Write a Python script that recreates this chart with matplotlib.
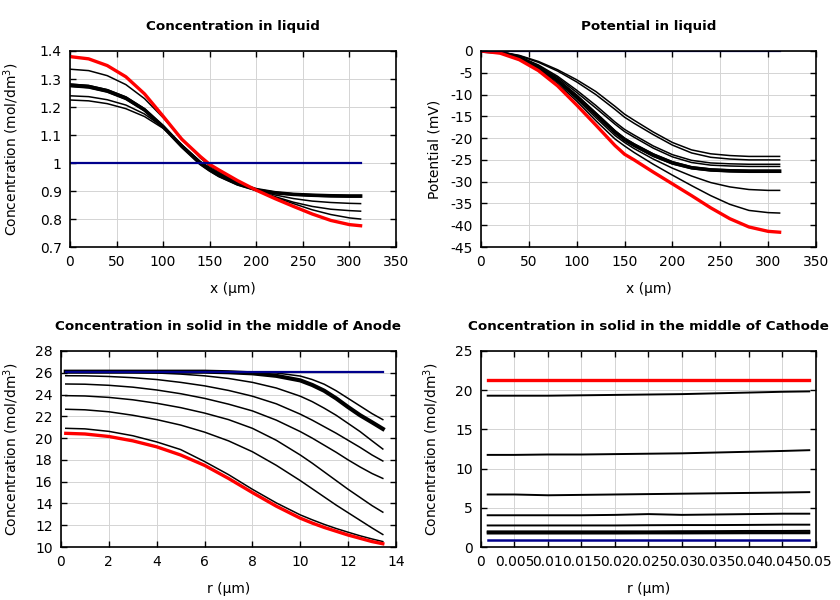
import matplotlib
matplotlib.use('Agg')
import matplotlib.pyplot as plt
from matplotlib.ticker import FormatStrFormatter

plt.rcParams['font.family'] = ['DejaVu Sans']
plt.rcParams['font.size'] = 10

#液相：位置 x (µm)
x_liq = [0, 20, 40, 60, 80, 100, 120, 140, 150, 160, 180, 200, 220, 240, 260, 280, 300, 312]

#液相浓度：初始、中间时刻、最终
conc_init = [1.0] * len(x_liq)
conc_mid = [
    [1.335, 1.330, 1.312, 1.280, 1.230, 1.162, 1.088, 1.018, 0.990, 0.968, 0.932, 0.902, 0.877, 0.855, 0.833, 0.816, 0.804, 0.800],
    [1.282, 1.277, 1.262, 1.236, 1.194, 1.133, 1.063, 1.001, 0.978, 0.958, 0.928, 0.907, 0.896, 0.890, 0.887, 0.885, 0.884, 0.884],
    [1.278, 1.273, 1.258, 1.232, 1.190, 1.130, 1.060, 0.998, 0.975, 0.955, 0.925, 0.905, 0.894, 0.888, 0.885, 0.883, 0.882, 0.882],
    [1.273, 1.268, 1.253, 1.227, 1.186, 1.127, 1.057, 0.995, 0.972, 0.952, 0.922, 0.902, 0.891, 0.886, 0.882, 0.880, 0.879, 0.879],
    [1.240, 1.237, 1.226, 1.207, 1.175, 1.128, 1.065, 1.005, 0.983, 0.963, 0.930, 0.904, 0.886, 0.873, 0.864, 0.859, 0.856, 0.855],
    [1.225, 1.222, 1.212, 1.194, 1.166, 1.124, 1.065, 1.005, 0.983, 0.963, 0.930, 0.903, 0.880, 0.860, 0.845, 0.835, 0.830, 0.828],
]
conc_final = [1.380, 1.372, 1.348, 1.308, 1.247, 1.167, 1.085, 1.023, 0.995, 0.975, 0.937, 0.903, 0.873, 0.845, 0.818, 0.795, 0.780, 0.776]

#液相电势 (mV)
pot_init = [0.0] * len(x_liq)
pot_mid = [
    [0, -0.2, -1.0, -2.4, -4.3, -6.6, -9.3, -12.7, -14.5, -15.9, -18.6, -21.0, -22.7, -23.6, -24.0, -24.2, -24.2, -24.2],
    [0, -0.2, -1.1, -2.6, -4.6, -7.1, -10.0, -13.4, -15.2, -16.6, -19.2, -21.6, -23.4, -24.4, -24.8, -25.0, -25.0, -25.0],
    [0, -0.3, -1.3, -3.2, -5.8, -9.0, -12.5, -16.3, -18.0, -19.3, -21.8, -23.8, -25.1, -25.7, -25.9, -26.0, -26.0, -26.0],
    [0, -0.3, -1.4, -3.4, -6.1, -9.5, -13.1, -16.8, -18.5, -19.8, -22.3, -24.3, -25.6, -26.2, -26.4, -26.5, -26.5, -26.5],
    [0, -0.3, -1.5, -3.6, -6.6, -10.2, -14.2, -18.3, -20.0, -21.3, -23.6, -25.4, -26.6, -27.1, -27.3, -27.4, -27.4, -27.4],
    [0, -0.3, -1.5, -3.7, -6.7, -10.4, -14.5, -18.6, -20.3, -21.6, -23.9, -25.7, -26.8, -27.3, -27.5, -27.6, -27.6, -27.6],
    [0, -0.35, -1.6, -3.8, -6.9, -10.6, -14.8, -18.9, -20.6, -21.9, -24.2, -25.9, -27.0, -27.5, -27.7, -27.8, -27.8, -27.8],
    [0, -0.35, -1.6, -3.9, -7.1, -11.0, -15.3, -19.4, -21.0, -22.4, -24.8, -26.9, -28.7, -30.2, -31.2, -31.8, -32.0, -32.0],
    [0, -0.4, -1.7, -4.1, -7.5, -11.5, -16.0, -20.2, -21.8, -23.3, -26.0, -28.5, -30.9, -33.2, -35.2, -36.6, -37.1, -37.2],
]
pot_final = [0, -0.5, -2.0, -4.5, -8.0, -12.4, -17.0, -21.7, -23.7, -25.0, -27.8, -30.5, -33.2, -36.0, -38.5, -40.4, -41.4, -41.6]

#负极颗粒：半径 r (µm)
r_an = [0.2, 1, 2, 3, 4, 5, 6, 7, 8, 9, 10, 10.5, 11, 11.5, 12, 12.5, 13, 13.45]
an_init = [26.1] * len(r_an)
an_mid = [
    [26.1, 26.1, 26.1, 26.1, 26.1, 26.1, 26.1, 26.1, 26.08, 25.98, 25.7, 25.38, 24.95, 24.35, 23.65, 22.95, 22.25, 21.7],
    [26.1, 26.1, 26.08, 26.04, 25.98, 25.88, 25.72, 25.48, 25.12, 24.6, 23.85, 23.35, 22.75, 22.1, 21.35, 20.6, 19.75, 19.0],
    [25.73, 25.72, 25.66, 25.55, 25.38, 25.12, 24.8, 24.38, 23.85, 23.15, 22.2, 21.65, 21.05, 20.45, 19.8, 19.15, 18.45, 17.9],
    [24.97, 24.95, 24.85, 24.68, 24.42, 24.08, 23.65, 23.12, 22.5, 21.65, 20.6, 20.0, 19.35, 18.7, 18.0, 17.35, 16.75, 16.3],
    [23.9, 23.87, 23.74, 23.52, 23.2, 22.8, 22.3, 21.7, 20.9, 19.8, 18.45, 17.7, 16.9, 16.1, 15.3, 14.55, 13.8, 13.2],
    [22.65, 22.6, 22.42, 22.1, 21.7, 21.2, 20.55, 19.75, 18.75, 17.5, 16.1, 15.35, 14.6, 13.85, 13.15, 12.45, 11.75, 11.15],
    [20.9, 20.85, 20.62, 20.22, 19.65, 18.95, 17.85, 16.65, 15.3, 14.05, 12.95, 12.5, 12.08, 11.7, 11.36, 11.03, 10.74, 10.5],
]
an_thick = [26.1, 26.1, 26.1, 26.1, 26.1, 26.1, 26.1, 26.05, 25.95, 25.72, 25.3, 24.88, 24.35, 23.65, 22.85, 22.1, 21.45, 20.85]
an_final = [20.44, 20.38, 20.15, 19.75, 19.2, 18.45, 17.5, 16.3, 15.0, 13.75, 12.65, 12.2, 11.8, 11.45, 11.1, 10.8, 10.5, 10.3]

#正极颗粒
r_ca = [0.001, 0.005, 0.01, 0.015, 0.02, 0.025, 0.03, 0.035, 0.04, 0.045, 0.049]
ca_init = [0.85] * len(r_ca)
ca_mid = [
    [19.3, 19.3, 19.3, 19.35, 19.4, 19.45, 19.5, 19.6, 19.7, 19.8, 19.85],
    [11.75, 11.75, 11.8, 11.8, 11.85, 11.9, 11.95, 12.05, 12.15, 12.25, 12.35],
    [6.7, 6.7, 6.6, 6.65, 6.7, 6.75, 6.8, 6.85, 6.9, 6.95, 7.0],
    [4.05, 4.05, 4.05, 4.05, 4.1, 4.2, 4.1, 4.15, 4.2, 4.25, 4.25],
    [2.75, 2.75, 2.75, 2.75, 2.75, 2.78, 2.8, 2.8, 2.82, 2.85, 2.85],
    [2.0, 2.0, 2.0, 2.0, 2.0, 2.0, 2.02, 2.03, 2.05, 2.05, 2.07],
    [1.87, 1.87, 1.87, 1.87, 1.88, 1.88, 1.88, 1.89, 1.9, 1.9, 1.9],
    [1.72, 1.72, 1.72, 1.72, 1.72, 1.73, 1.73, 1.74, 1.75, 1.75, 1.75],
]
ca_final = [21.25] * len(r_ca)
ca_ticks = ['0', '0.005', '0.01', '0.015', '0.02', '0.025', '0.03', '0.035', '0.04', '0.045', '0.05']

BLUE = '#00008c'
RED = '#ff0000'

fig = plt.figure(figsize=(8.4, 6), dpi=100)
ax1 = fig.add_axes([0.0833, 0.5883, 0.3881, 0.3267])
ax2 = fig.add_axes([0.5726, 0.5883, 0.3988, 0.3267])
ax3 = fig.add_axes([0.0726, 0.0883, 0.3988, 0.3267])
ax4 = fig.add_axes([0.5726, 0.0883, 0.3988, 0.3267])


def style(ax, title, xlabel, ylabel, ylab_x):
    ax.set_title(title, fontsize=9.7, fontweight='bold', pad=15)
    ax.set_xlabel(xlabel, fontsize=10, labelpad=9)
    ax.set_ylabel(ylabel, fontsize=10)
    ax.yaxis.set_label_coords(ylab_x, 0.5)
    ax.grid(True, color='#d4d4d4', linewidth=0.7)
    ax.set_axisbelow(True)
    ax.tick_params(direction='in', top=True, right=True, length=4, width=1, labelsize=10, pad=6)
    for s in ax.spines.values():
        s.set_linewidth(1.2)


#1. 液相浓度
for c in conc_mid:
    ax1.plot(x_liq, c, color='black', linewidth=1.1)
ax1.plot(x_liq, conc_mid[2], color='black', linewidth=2.6)
ax1.plot(x_liq, conc_final, color=RED, linewidth=2.4)
ax1.plot(x_liq, conc_init, color=BLUE, linewidth=1.6)
ax1.set_xlim(0, 350)
ax1.set_ylim(0.7, 1.4)
ax1.set_xticks(range(0, 351, 50))
ax1.set_yticks([0.7, 0.8, 0.9, 1.0, 1.1, 1.2, 1.3, 1.4])
ax1.yaxis.set_major_formatter(FormatStrFormatter('%g'))
style(ax1, 'Concentration in liquid', 'x (µm)', 'Concentration (mol/dm$^3$)', -0.150)

#2. 液相电势
for p in pot_mid:
    ax2.plot(x_liq, p, color='black', linewidth=1.1)
ax2.plot(x_liq, pot_mid[5], color='black', linewidth=2.6)
ax2.plot(x_liq, pot_final, color=RED, linewidth=2.4)
ax2.plot(x_liq, pot_init, color=BLUE, linewidth=1.6)
ax2.set_xlim(0, 350)
ax2.set_ylim(-45, 0)
ax2.set_xticks(range(0, 351, 50))
ax2.set_yticks(range(-45, 1, 5))
ax2.yaxis.set_major_formatter(FormatStrFormatter('%g'))
style(ax2, 'Potential in liquid', 'x (µm)', 'Potential (mV)', -0.119)

#3. 负极固相浓度
for c in an_mid:
    ax3.plot(r_an, c, color='black', linewidth=1.1)
ax3.plot(r_an, an_thick, color='black', linewidth=3.0)
ax3.plot(r_an, an_final, color=RED, linewidth=2.4)
ax3.plot(r_an, an_init, color=BLUE, linewidth=1.6)
ax3.set_xlim(0, 14)
ax3.set_ylim(10, 28)
ax3.set_xticks(range(0, 15, 2))
ax3.set_yticks(range(10, 29, 2))
style(ax3, 'Concentration in solid in the middle of Anode', 'r (µm)', 'Concentration (mol/dm$^3$)', -0.119)

#4. 正极固相浓度
for c in ca_mid:
    ax4.plot(r_ca, c, color='black', linewidth=1.4)
ax4.plot(r_ca, ca_final, color=RED, linewidth=2.4)
ax4.plot(r_ca, ca_init, color=BLUE, linewidth=1.8)
ax4.set_xlim(0, 0.05)
ax4.set_ylim(0, 25)
ax4.set_xticks([i * 0.005 for i in range(11)])
ax4.set_xticklabels(ca_ticks)
ax4.set_yticks(range(0, 26, 5))
style(ax4, 'Concentration in solid in the middle of Cathode', 'r (µm)', 'Concentration (mol/dm$^3$)', -0.119)

plt.savefig('out.png', dpi=100)
